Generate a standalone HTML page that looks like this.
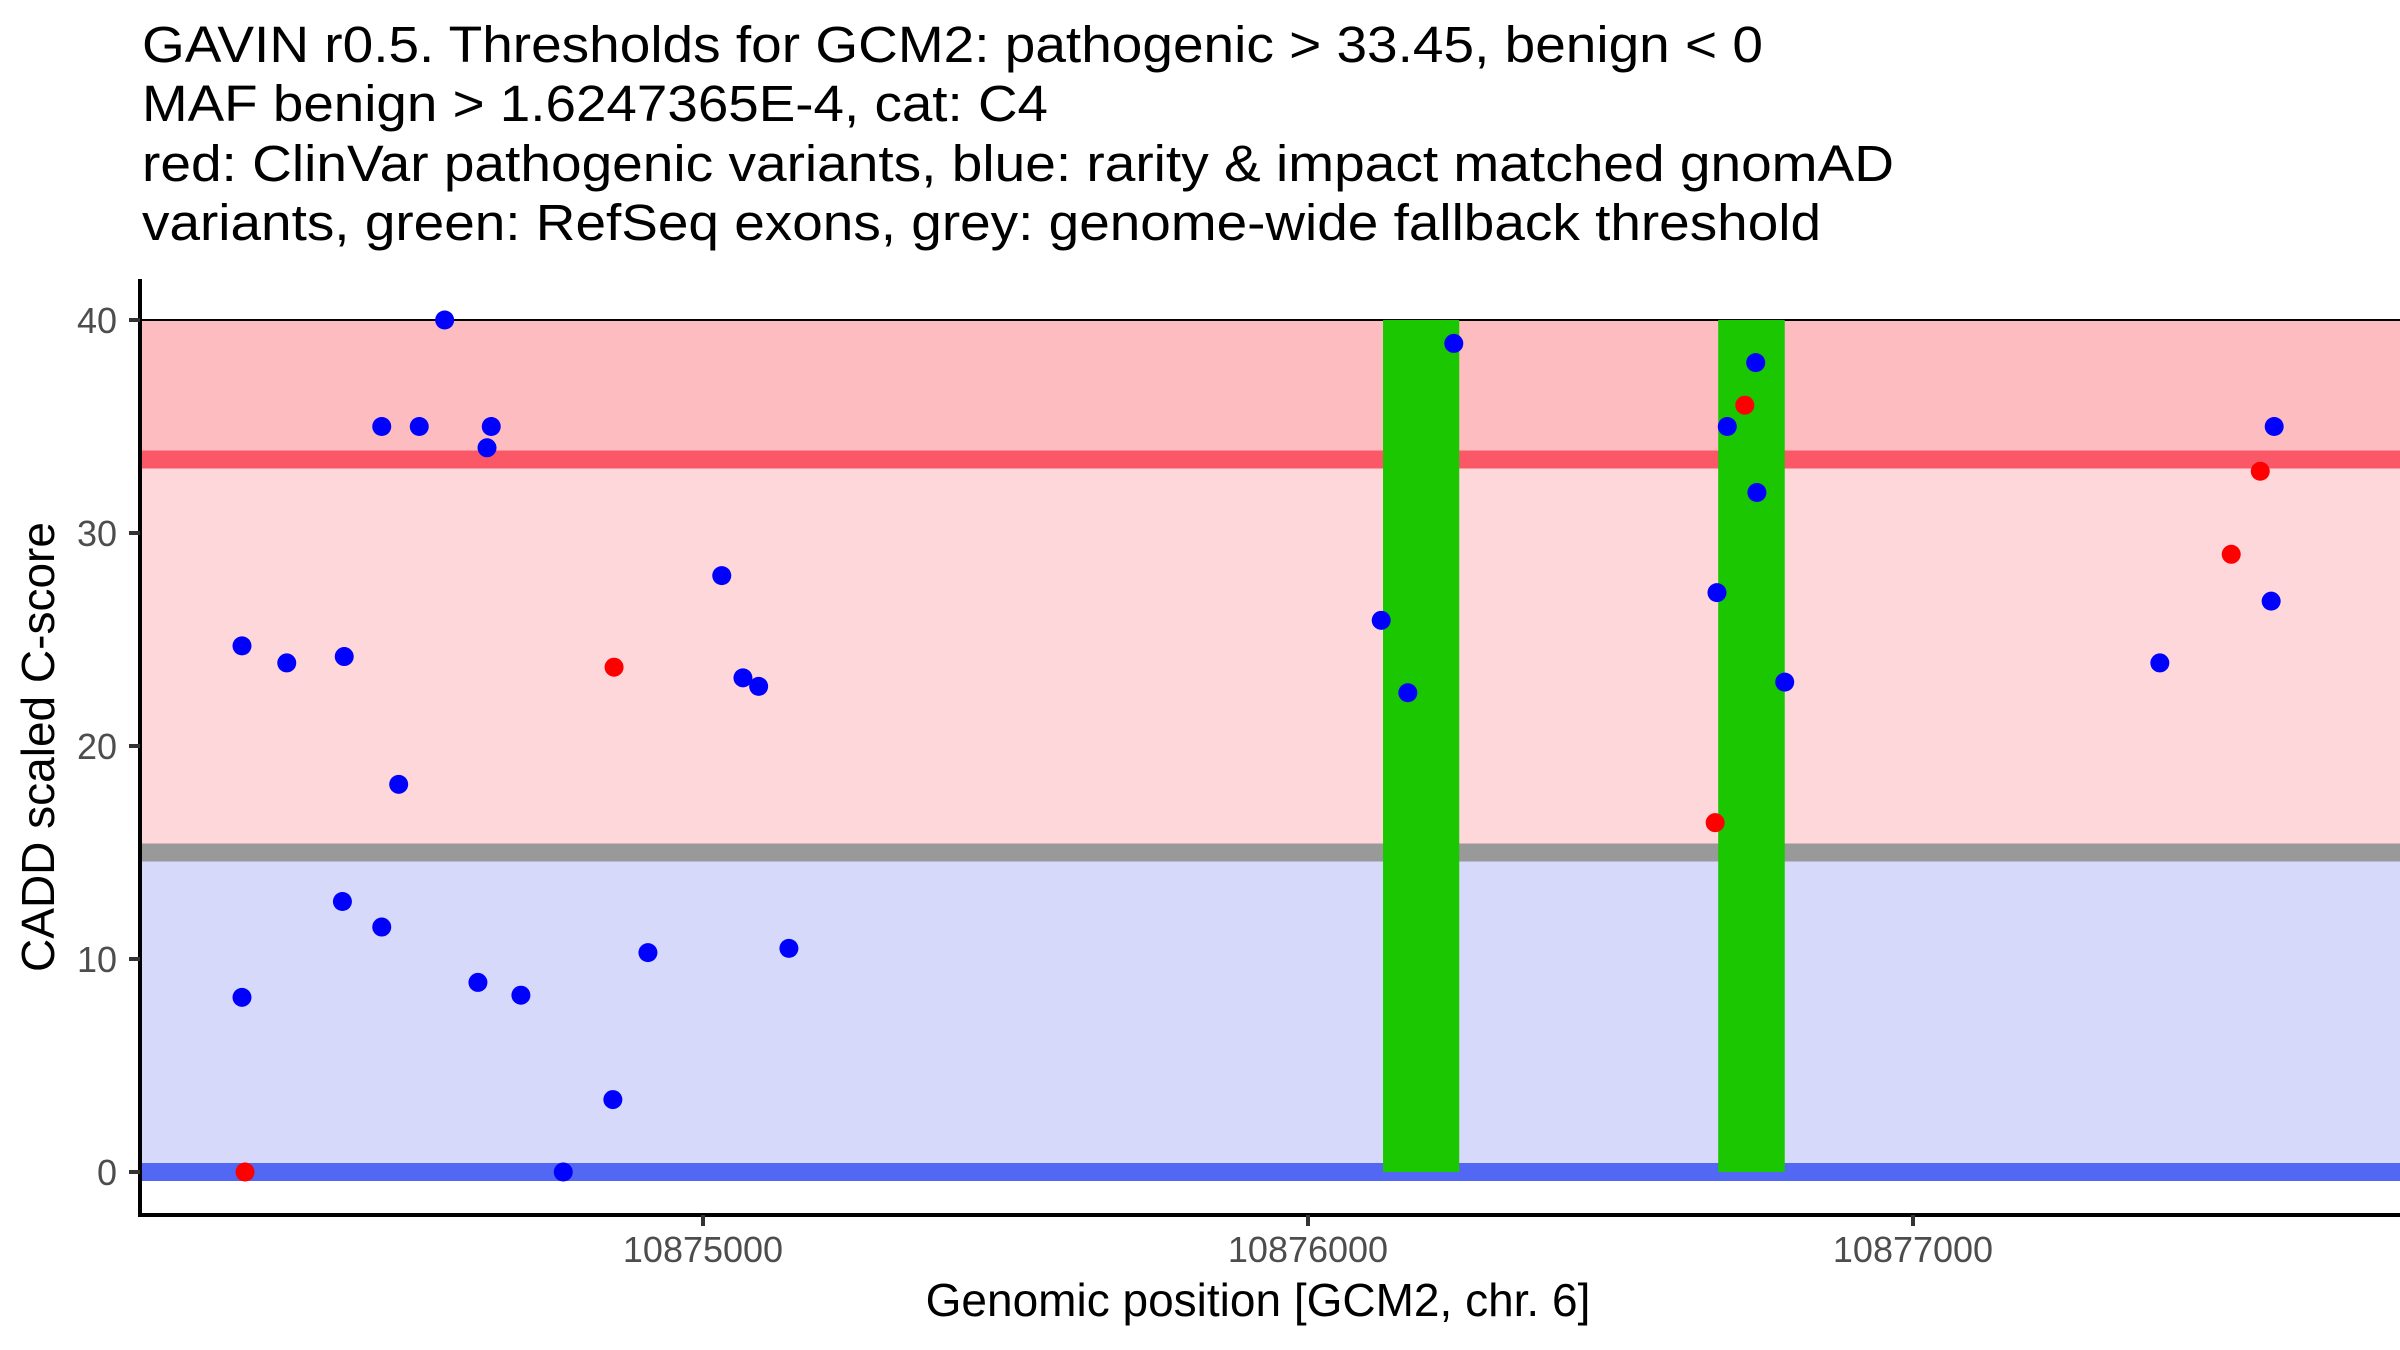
<!DOCTYPE html>
<html><head><meta charset="utf-8"><style>
html,body{margin:0;padding:0;background:#fff;}
svg{display:block;}
text{font-family:"Liberation Sans",Arial,sans-serif;}
</style></head>
<body>
<svg id="chart" width="2400" height="1350" viewBox="0 0 2400 1350" xmlns="http://www.w3.org/2000/svg">
<g font-size="51" fill="#000">
<text x="142" y="62" textLength="1621" lengthAdjust="spacingAndGlyphs">GAVIN r0.5. Thresholds for GCM2: pathogenic &gt; 33.45, benign &lt; 0</text>
<text x="142" y="121" textLength="906" lengthAdjust="spacingAndGlyphs">MAF benign &gt; 1.6247365E-4, cat: C4</text>
<text x="142" y="181" textLength="1752" lengthAdjust="spacingAndGlyphs">red: ClinVar pathogenic variants, blue: rarity &amp; impact matched gnomAD</text>
<text x="142" y="240" textLength="1679" lengthAdjust="spacingAndGlyphs">variants, green: RefSeq exons, grey: genome-wide fallback threshold</text>
</g>
<g id="bands"></g>
<g id="exons"></g>
<g id="points"></g>
<g id="axes"></g>
<text transform="translate(54,747) rotate(-90)" text-anchor="middle" font-size="46" fill="#000">CADD scaled C-score</text>
<text x="1258" y="1316" text-anchor="middle" font-size="46" fill="#000">Genomic position [GCM2, chr. 6]</text>
</svg>
<script>
const xTicks = [10875000, 10876000, 10877000];
const yTicks = [0, 10, 20, 30, 40];
const pathogenicThreshold = 33.45;
const fallbackThreshold = 15;
const benignThreshold = 0;
const yMax = 40;
const exonStarts = [10876124, 10876678];
const exonEnds = [10876250, 10876788];
const benignPos = [10874238,10874312,10874407,10874573,10874469,10874531,10874650,10874643,10874497,10875031,10875066,10875092,10874404,10874469,10874238,10874628,10874699,10874909,10875142,10874851,10874769,10876241,10876121,10876165,10876740,10876693,10876742,10876676,10876788,10877408,10877597,10877592];
const benignScore = [24.7,23.9,24.2,40,35,35,35,34,18.2,28.0,23.2,22.8,12.7,11.5,8.2,8.9,8.3,10.3,10.5,3.4,0,38.9,25.9,22.5,38.0,35.0,31.9,27.2,23.0,23.9,35.0,26.8];
const pathoPos = [10874853,10874243,10876722,10876673,10877526,10877574];
const pathoScore = [23.7,0,36.0,16.4,29.0,32.9];

const NS = 'http://www.w3.org/2000/svg';
const PL = 140, PR = 2400, PT = 279, PB = 1215;
function xs(p){ return 703 + (p - 10875000) * 0.605; }
function ys(v){ return 1172 - v * 21.3; }
function mk(tag, attrs, parent){
  const e = document.createElementNS(NS, tag);
  for (const k in attrs) e.setAttribute(k, attrs[k]);
  parent.appendChild(e); return e;
}
const bands = document.getElementById('bands');
let r;
r = mk('rect', {x:PL, y:ys(yMax), width:PR-PL, height:ys(pathogenicThreshold)-ys(yMax), fill:'#FDBCC0'}, bands);


r = mk('rect', {x:PL, y:ys(pathogenicThreshold), width:PR-PL, height:ys(fallbackThreshold)-ys(pathogenicThreshold), fill:'#FED7DB'}, bands);


r = mk('rect', {x:PL, y:ys(fallbackThreshold), width:PR-PL, height:ys(benignThreshold)-ys(fallbackThreshold), fill:'#D7D9FB'}, bands);


r = mk('line', {x1:PL, x2:PR, y1:ys(yMax), y2:ys(yMax), stroke:'#000', 'stroke-width':2}, bands);


r = mk('line', {x1:PL, x2:PR, y1:ys(pathogenicThreshold), y2:ys(pathogenicThreshold), stroke:'#FB5867', 'stroke-width':18}, bands);


r = mk('line', {x1:PL, x2:PR, y1:ys(fallbackThreshold), y2:ys(fallbackThreshold), stroke:'#999999', 'stroke-width':18}, bands);


r = mk('line', {x1:PL, x2:PR, y1:ys(benignThreshold), y2:ys(benignThreshold), stroke:'#5267F3', 'stroke-width':18}, bands);



const exons = document.getElementById('exons');
for (let i = 0; i < exonStarts.length; i++){
  const e = mk('rect', {x:xs(exonStarts[i]), y:ys(yMax), width:xs(exonEnds[i])-xs(exonStarts[i]), height:ys(0)-ys(yMax), fill:'#1AC700'}, exons);
  
  
}
const pts = document.getElementById('points');
for (let i = 0; i < pathoPos.length; i++){
  const c = mk('circle', {cx:xs(pathoPos[i]), cy:ys(pathoScore[i]), r:9.5, fill:'#FF0000'}, pts);
  
  
}
for (let i = 0; i < benignPos.length; i++){
  const c = mk('circle', {cx:xs(benignPos[i]), cy:ys(benignScore[i]), r:9.5, fill:'#0000FF'}, pts);
  
  
}
const axes = document.getElementById('axes');
let a = mk('line', {x1:PL, x2:PL, y1:PT, y2:PB+2, stroke:'#000', 'stroke-width':4}, axes);


a = mk('line', {x1:PL-2, x2:PR, y1:PB, y2:PB, stroke:'#000', 'stroke-width':4}, axes);


for (const t of yTicks){
  const l = mk('line', {x1:PL-11, x2:PL, y1:ys(t), y2:ys(t), stroke:'#333', 'stroke-width':4}, axes);
  
  
  const tx = mk('text', {x:117, y:ys(t)+13, 'text-anchor':'end', 'font-size':36, fill:'#4D4D4D'}, axes);
  tx.textContent = t;
  
  
}
for (const t of xTicks){
  const l = mk('line', {x1:xs(t), x2:xs(t), y1:PB, y2:PB+11, stroke:'#333', 'stroke-width':4}, axes);
  
  
  const tx = mk('text', {x:xs(t), y:1262, 'text-anchor':'middle', 'font-size':36, fill:'#4D4D4D'}, axes);
  tx.textContent = t;
  
  
}
</script>
</body></html>
